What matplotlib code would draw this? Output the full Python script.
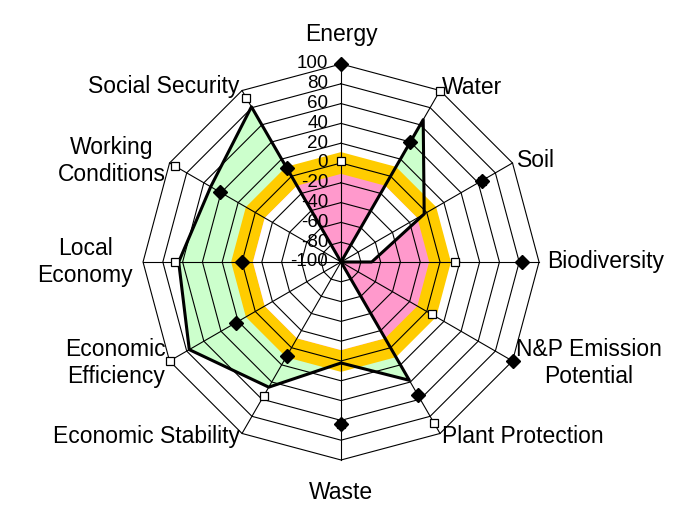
import numpy as np
import matplotlib
matplotlib.use("Agg")
import matplotlib.pyplot as plt

# ---------------------------------------------------------------------------
# Data (scale -100 .. 100)
# ---------------------------------------------------------------------------
categories = ["Energy", "Water", "Soil", "Biodiversity",
              "N&P Emission\nPotential", "Plant Protection", "Waste",
              "Economic Stability", "Economic\nEfficiency", "Local\nEconomy",
              "Working\nConditions", "Social Security"]

result   = [-100, 66, -3, -69, -100, 38, 2, 46, 77, 64, 52, 81]   # thick line
diamonds = [100, 40, 64, 83, 100, 55, 64, 10, 23, 0, 41, 10]
squares  = [2, 100, 64, 15, 6, 88, 64, 56, 100, 68, 94, 91]

band_low, band_high = -11, 11
ring_levels = list(range(-80, 101, 20))
tick_levels = list(range(100, -101, -20))

# label placement: (radius, ha, va)
label_pos = [(118, "center", "bottom"), (103, "left", "center"),
             (105, "left", "center"), (108, "left", "center"),
             (104, "left", "center"), (104, "left", "center"),
             (121, "center", "top"), (104, "right", "center"),
             (104, "right", "center"), (110, "right", "center"),
             (104, "right", "center"), (105, "right", "center")]

PINK = "#FF99CC"
GOLD = "#FFCC00"
GREEN = "#CCFFCC"

plt.rcParams["font.family"] = ["Liberation Sans", "DejaVu Sans"]

n = len(categories)
theta = np.arange(n) * 2 * np.pi / n
theta_c = np.append(theta, theta[0])


def closed(vals):
    return np.append(np.asarray(vals, dtype=float), vals[0])


fig = plt.figure(figsize=(6.94, 5.19), dpi=100)
fig.patch.set_facecolor("white")
ax = fig.add_axes([0.2061, 0.1137, 0.5706, 0.763], projection="polar")
ax.set_theta_zero_location("N")
ax.set_theta_direction(-1)
ax.set_ylim(-100, 100)
ax.grid(False)
ax.set_xticks([])
ax.set_yticks([])
ax.spines["polar"].set_visible(False)
ax.patch.set_alpha(0)

# --- fills ----------------------------------------------------------------
ax.fill(theta_c, closed(result), color=GREEN, lw=0, zorder=1)
ax.fill(theta_c, closed([band_high] * n), color=GOLD, lw=0, zorder=2)
pink = ax.fill(theta_c, closed([band_low] * n), color=PINK, lw=0, zorder=3)[0]
white = ax.fill(theta_c, closed(result), color="white", lw=0, zorder=4)[0]
white.set_clip_path(pink)

# --- polygon grid -----------------------------------------------------------
for lev in ring_levels:
    ax.plot(theta_c, closed([lev] * n), color="black", lw=0.8, zorder=5,
            clip_on=False)
for t in theta:
    ax.plot([t, t], [-100, 100], color="black", lw=0.8, zorder=5,
            clip_on=False)

# --- series -----------------------------------------------------------------
ax.plot(theta_c, closed(result), color="black", lw=2.2, zorder=6,
        clip_on=False)
ax.plot(theta, squares, ls="none", marker="s", ms=6, mfc="white",
        mec="black", mew=0.9, zorder=7, clip_on=False)
ax.plot(theta, diamonds, ls="none", marker="D", ms=7.5, mfc="black",
        mec="black", zorder=8, clip_on=False)

# --- tick labels along the Energy axis ---------------------------------------
for lev in tick_levels:
    ax.annotate(str(lev), xy=(0, lev), xytext=(-13, 0),
                textcoords="offset pixels", ha="right", va="center",
                fontsize=13.5, color="black", zorder=9)

# --- category labels ----------------------------------------------------------
for t, lab, (r, ha, va) in zip(theta, categories, label_pos):
    ax.text(t, r, lab, ha=ha, va=va, multialignment="center",
            fontsize=16.5, color="black", linespacing=1.25)

fig.savefig("out.png", dpi=100, facecolor="white")
